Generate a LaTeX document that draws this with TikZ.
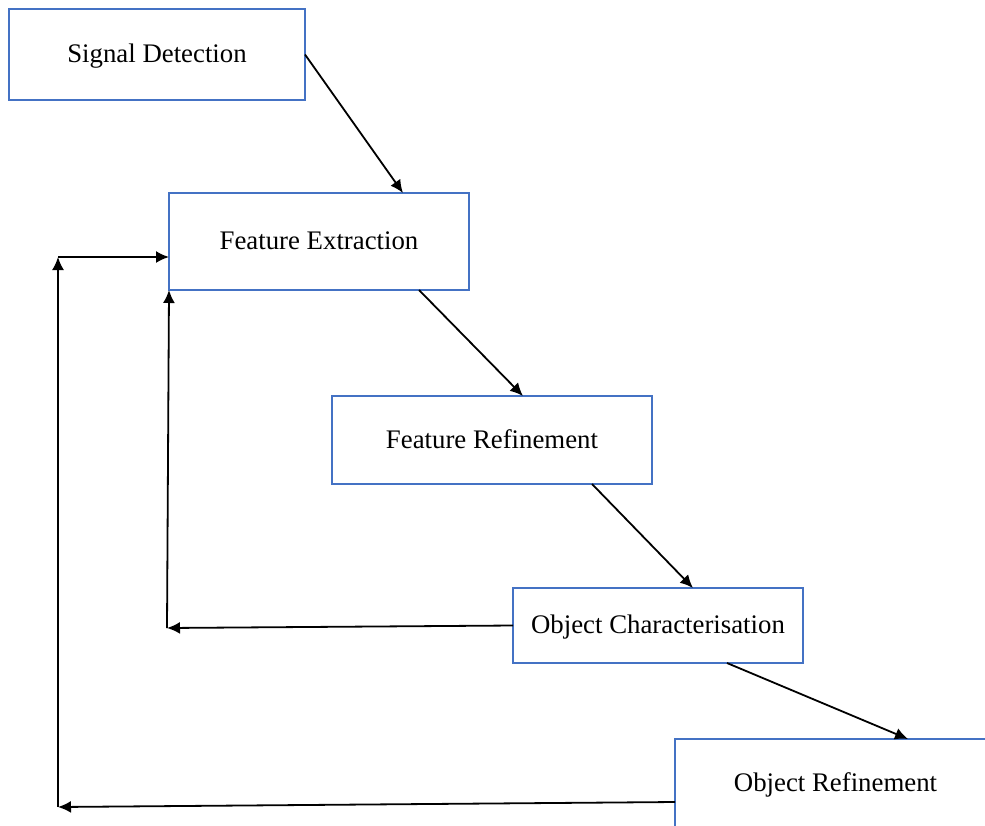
\documentclass[tikz,border=0pt]{standalone}
\usepackage{fontspec}
\setmainfont{Liberation Serif}
\usetikzlibrary{arrows.meta}
\definecolor{boxblue}{HTML}{4472C4}
\tikzset{
	stage/.style={draw=boxblue, line width=0.7pt, inner sep=0pt, outer sep=0pt, text height=11pt, text depth=3pt, font=\fontsize{13.4}{16}\selectfont},
	flow/.style={-{Latex[length=6.5pt,width=6pt]}, line width=0.9pt}
}
\begin{document}
\begin{tikzpicture}[x=0.5pt,y=-0.5pt]

\clip (0,0) rectangle (985,825);

\node[stage, minimum width=148pt, minimum height=45.5pt] (sd) at (157,54.5) {Signal Detection};
\node[stage, minimum width=150pt, minimum height=48.5pt] (fe) at (319,241.5) {Feature Extraction};
\node[stage, minimum width=160pt, minimum height=44pt] (fr) at (492,440) {Feature Refinement};
\node[stage, minimum width=145pt, minimum height=37.5pt] (oc) at (658,625.5) {Object Characterisation};
\node[stage, minimum width=160.5pt, minimum height=44pt] (or) at (835.5,783) {Object Refinement};

% feedback corners
\coordinate (fb1) at (167,628);
\coordinate (fb2) at (58,807);
\coordinate (fb3) at (58,257);

\draw [flow] (sd.east) -- ([xshift=42pt]fe.north);
\draw [flow] ([xshift=50pt]fe.south) -- ([xshift=15.5pt]fr.north);
\draw [flow] ([xshift=50pt]fr.south) -- ([xshift=17.5pt]oc.north);
\draw [flow] ([xshift=34.5pt]oc.south) -- ([xshift=36.25pt]or.north);

\draw [flow] (oc.west) -- (fb1);
\draw [flow] (fb1) -- (fe.south west);
\draw [flow] ([yshift=-9.5pt]or.west) -- (fb2);
\draw [flow] (fb2) -- (fb3);
\draw [flow] (fb3) -- ([yshift=-7.75pt]fe.west);
\end{tikzpicture}
\end{document}
